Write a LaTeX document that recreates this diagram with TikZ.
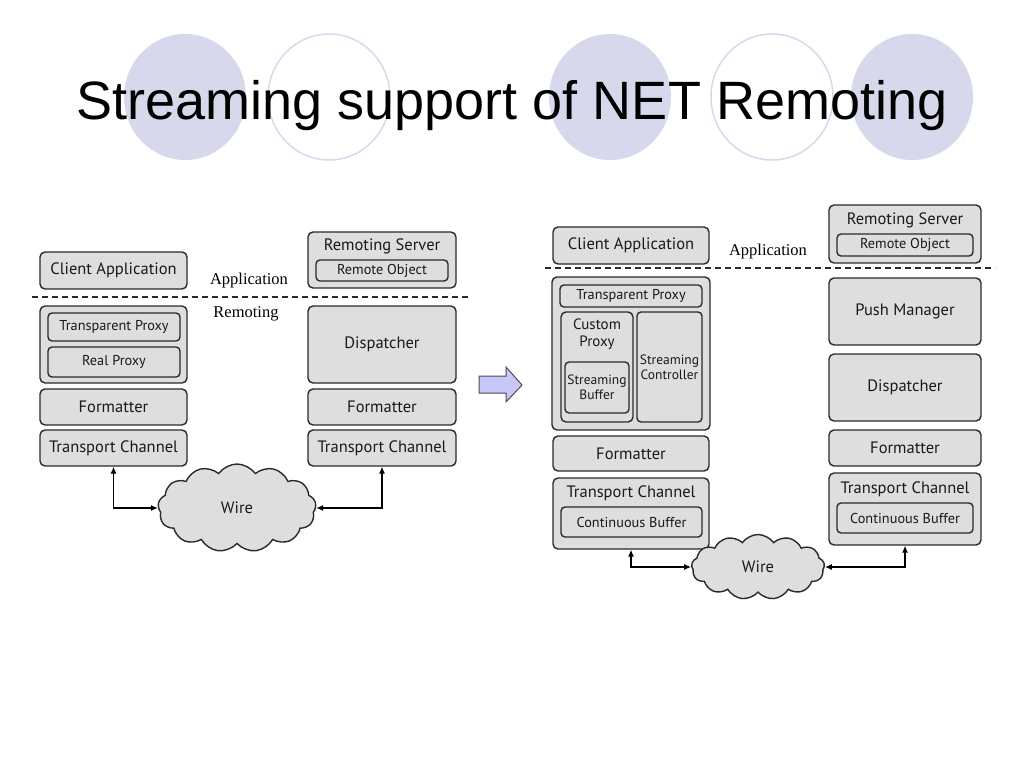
\documentclass[tikz,border=0pt]{standalone}
\usepackage{fontspec}
\setmainfont{Liberation Serif}
\newfontfamily\titlefont{Liberation Sans}
\newfontfamily\boxfont{PT Sans}
\usetikzlibrary{shapes.symbols,arrows.meta}
\definecolor{boxfill}{HTML}{DEDEDE}
\definecolor{boxline}{HTML}{2A2A2A}
\definecolor{circfill}{HTML}{D8D8EC}
\definecolor{arrowfill}{HTML}{C8C8F8}
\tikzset{
  box/.style={draw=boxline, line width=1.4pt, fill=boxfill, rounded corners=5pt, inner sep=0pt, font=\boxfont\fontsize{16.5}{18}\selectfont, text=black!90},
  inbox/.style={box, rounded corners=4pt, font=\boxfont\fontsize{14.3}{16}\selectfont},
  tinybox/.style={box, rounded corners=4pt, font=\boxfont\fontsize{13.5}{15}\selectfont, align=center},
  lbl/.style={inner sep=0pt, font=\boxfont\fontsize{16.5}{18}\selectfont, text=black!90},
  layer/.style={inner sep=0pt, font=\fontsize{16.5}{18}\selectfont},
  wire/.style={cloud, draw=boxline, line width=1.4pt, fill=boxfill, cloud puffs=13, cloud puff arc=110, aspect=1.8, inner sep=0pt, font=\boxfont\fontsize{16.5}{18}\selectfont, text=black!90},
  conn/.style={draw=black, line width=1.1pt, {Latex[length=7pt,width=6pt]}-{Latex[length=7pt,width=6pt]}},
  sep/.style={draw=boxline, line width=1.3pt, dash pattern=on 6pt off 4pt},
}
\begin{document}
\begin{tikzpicture}[x=1pt,y=-1pt]
\useasboundingbox (0,0) rectangle (1024,768);
% decorative circles
\fill[circfill] (185,97) ellipse [x radius=61, y radius=63];
\fill[circfill] (610,97) ellipse [x radius=61, y radius=63];
\fill[circfill] (912,97) ellipse [x radius=61, y radius=63];
\draw[circfill, line width=1.5pt] (329,97) ellipse [x radius=61, y radius=63];
\draw[circfill, line width=1.5pt] (772,97) ellipse [x radius=61, y radius=63];
\node[anchor=base, inner sep=0pt, font=\titlefont\fontsize{54}{60}\selectfont] (title) at (512,119) {Streaming support of NET Remoting};

% ===== left diagram =====
\node[box, minimum width=147, minimum height=37] (ca1) at (113.5,270.5) {Client Application};
\node[box, minimum width=148, minimum height=56] (rs1) at (382,260) {};
\node[lbl] (rs1t) at (382,246) {Remoting Server};
\node[inbox, minimum width=132, minimum height=21] (ro1) at (382,270.5) {Remote Object};
\node[layer] (app1) at (249,281) {Application};
\node[layer] (rem1) at (246,314) {Remoting};
\coordinate (d1a) at (32,297);
\coordinate (d1b) at (470,297);
\draw[sep] (d1a) -- (d1b);
\node[box, minimum width=147, minimum height=77] (pg1) at (113.5,344.5) {};
\node[inbox, minimum width=132, minimum height=28] (tp1) at (114,327) {Transparent Proxy};
\node[inbox, minimum width=132, minimum height=30] (rp1) at (114,362) {Real Proxy};
\node[box, minimum width=147, minimum height=36] (fm1) at (113.5,407) {Formatter};
\node[box, minimum width=147, minimum height=36] (tc1) at (113.5,448) {Transport Channel};
\node[box, minimum width=148, minimum height=77] (dp1) at (382,344.5) {Dispatcher};
\node[box, minimum width=148, minimum height=36] (fm1r) at (382,407) {Formatter};
\node[box, minimum width=148, minimum height=36] (tc1r) at (382,448) {Transport Channel};
\node[wire, minimum width=158, minimum height=88] (wire1) at (237,508) {Wire};
\draw[conn] (tc1.south) |- (wire1.west);
\draw[conn] (tc1r.south) |- (wire1.east);

% ===== middle arrow =====
\filldraw[fill=arrowfill, draw=black!70, line width=1pt]
  (479,376) -- (506,376) -- (506,367) -- (522,385) -- (506,402) -- (506,393) -- (479,393) -- cycle;

% ===== right diagram =====
\node[box, minimum width=156, minimum height=37] (ca2) at (631,245.5) {Client Application};
\node[layer] (app2) at (768,252) {Application};
\coordinate (d2a) at (545,268);
\coordinate (d2b) at (995,268);
\draw[sep] (d2a) -- (d2b);
\node[box, minimum width=152, minimum height=58] (rs2) at (905,234) {};
\node[lbl] (rs2t) at (905,220) {Remoting Server};
\node[inbox, minimum width=136, minimum height=22] (ro2) at (905,245) {Remote Object};

\node[box, minimum width=158, minimum height=153] (pg2) at (631,353.5) {};
\node[inbox, minimum width=142, minimum height=22] (tp2) at (631,296) {Transparent Proxy};
\node[box, minimum width=72, minimum height=110] (cp2) at (597,367) {};
\node[lbl, align=center, font=\boxfont\fontsize{15}{17.5}\selectfont] (cp2t) at (597,334) {Custom\\Proxy};
\node[tinybox, minimum width=64, minimum height=51] (sb2) at (597,387.5) {Streaming\\Buffer};
\node[tinybox, minimum width=65, minimum height=110] (sc2) at (669.5,367) {Streaming\\Controller};
\node[box, minimum width=156, minimum height=35] (fm2) at (631,453.5) {Formatter};
\node[box, minimum width=156, minimum height=71] (tc2) at (631,513.5) {};
\node[lbl] (tc2t) at (631,493) {Transport Channel};
\node[inbox, minimum width=141, minimum height=30] (cb2) at (631.5,522) {Continuous Buffer};

\node[box, minimum width=152, minimum height=67] (pm2) at (905,311.5) {Push Manager};
\node[box, minimum width=152, minimum height=67] (dp2) at (905,387.5) {Dispatcher};
\node[box, minimum width=152, minimum height=36] (fm2r) at (905,448) {Formatter};
\node[box, minimum width=152, minimum height=72] (tc2r) at (905,509) {};
\node[lbl] (tc2rt) at (905,489) {Transport Channel};
\node[inbox, minimum width=136, minimum height=30] (cb2r) at (905,518) {Continuous Buffer};

\node[wire, minimum width=133, minimum height=65] (wire2) at (758,567) {Wire};
\draw[conn] (tc2.south) |- (wire2.west);
\draw[conn] (tc2r.south) |- (wire2.east);
\end{tikzpicture}
\end{document}
